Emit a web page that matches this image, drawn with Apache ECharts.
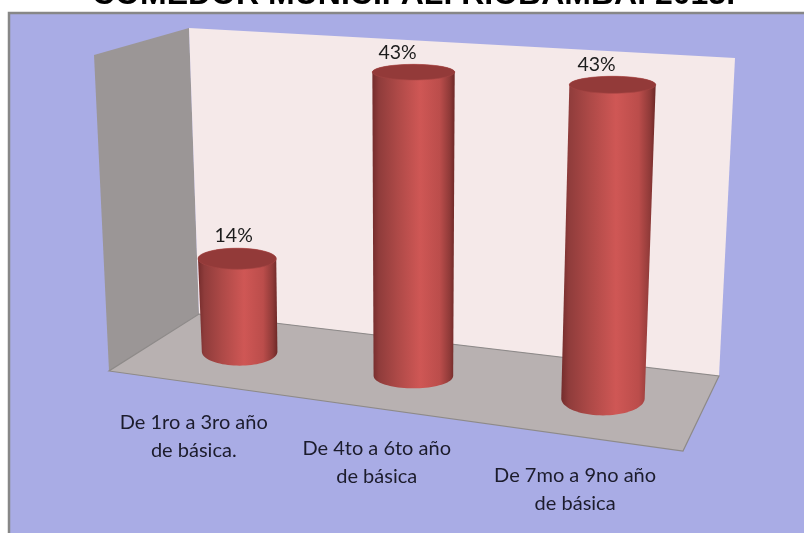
<!DOCTYPE html>
<html><head><meta charset="utf-8">
<style>html,body{margin:0;padding:0;background:#fff}#c{width:804px;height:533px}</style>
<script src="https://cdn.jsdelivr.net/npm/echarts@6/dist/echarts.min.js"></script>
</head><body><div id="c"></div>
<script>
const categories = ['De 1ro a 3ro año\nde básica.', 'De 4to a 6to año\nde básica', 'De 7mo a 9no año\nde básica'];
const percentValues = [14, 43, 43];
const titleText = 'COMEDOR MUNICIPAL. RIOBAMBA. 2013.';

const floorCorners = [[199, 314], [719, 376], [683, 451], [109, 371]];
const leftWall = [[94, 55], [189, 28], [199, 314], [109, 371]];
const backWall = [[189, 28], [735, 58], [719, 376], [199, 314]];
const topRadiusY = [10.5, 7.8, 8.5];
const baseRadiusY = [14, 12.5, 17];
const depthOnFloor = [0.5, 0.525, 0.5];
const widthNudge = [0.006, 0.011, 0.006];
const labelNudge = [0, 0.004, 0];
const heightTrim = [1, 1.01, 0.995];
const labelDx = [-3.5, -16, -16];

// Perspective mapping of the floor plane (unit square to the floor quadrilateral)
const [p0, p1, p2, p3] = floorCorners;
const dx1 = p1[0] - p2[0], dx2 = p3[0] - p2[0], sx = p0[0] - p1[0] + p2[0] - p3[0];
const dy1 = p1[1] - p2[1], dy2 = p3[1] - p2[1], sy = p0[1] - p1[1] + p2[1] - p3[1];
const det = dx1 * dy2 - dx2 * dy1;
const hg = (sx * dy2 - dx2 * sy) / det, hh = (dx1 * sy - sx * dy1) / det;
const ha = p1[0] - p0[0] + hg * p1[0], hb = p3[0] - p0[0] + hh * p3[0];
const hd = p1[1] - p0[1] + hg * p1[1], he = p3[1] - p0[1] + hh * p3[1];
function floorPoint(u, v) {
  const w = hg * u + hh * v + 1;
  return { x: (ha * u + hb * v + p0[0]) / w, y: (hd * u + he * v + p0[1]) / w, scale: 1 / w };
}

const GRID = { left: 100, top: 60, width: 600, height: 307.5 };
const sideGradient = {
  type: 'linear', x: 0, y: 0, x2: 1, y2: 0,
  colorStops: [
    { offset: 0, color: '#742c2c' }, { offset: 0.08, color: '#8f3c3b' },
    { offset: 0.3, color: '#ad4947' }, { offset: 0.58, color: '#cf5755' },
    { offset: 0.82, color: '#bb4d4b' }, { offset: 0.94, color: '#8f3a38' },
    { offset: 1, color: '#6d2827' }
  ]
};

function ellipsePts(cx, cy, rx, ry, from, to, n) {
  const out = [];
  for (let k = 0; k <= n; k++) {
    const t = from + (to - from) * k / n;
    out.push([cx + rx * Math.cos(t), cy + ry * Math.sin(t)]);
  }
  return out;
}

function renderCylinder(params, api) {
  const i = api.value(0), v = api.value(1);
  const zero = api.coord([i, 0]), tip = api.coord([i, v]);
  const u = (zero[0] - GRID.left) / GRID.width + widthNudge[i];
  const base = floorPoint(u, depthOnFloor[i]);
  const bandW = api.size([1, 0])[0];
  const height = (zero[1] - tip[1]) * base.scale * heightTrim[i];
  const lean = (base.x - 410) * 1.58e-4 * height;
  const tx = base.x + lean, ty = base.y - height;
  const rxBottom = bandW * 0.175 * base.scale;
  const rxTop = rxBottom * 1.035;
  const side = ellipsePts(base.x, base.y, rxBottom, baseRadiusY[i], 0, Math.PI, 40)
    .concat(ellipsePts(tx, ty, rxTop, topRadiusY[i], Math.PI, 2 * Math.PI, 40));
  return {
    type: 'group',
    children: [
      { type: 'polygon', shape: { points: side }, style: { fill: sideGradient } },
      { type: 'polygon', shape: { points: ellipsePts(tx, ty, rxTop, topRadiusY[i], 0, 2 * Math.PI, 60) },
        style: { fill: '#933a39', stroke: '#a54543', lineWidth: 0.6 } },
      { type: 'text', style: { x: tx + labelDx[i], y: ty - topRadiusY[i] - 12, text: v + '%',
        font: '19.5px Lato', fill: '#1c1c1c', align: 'center', verticalAlign: 'middle' } }
    ]
  };
}

function renderCategoryLabel(params, api) {
  const i = api.value(0);
  const zero = api.coord([i, 0]);
  const u = (zero[0] - GRID.left) / GRID.width + labelNudge[i];
  const front = floorPoint(u, 1);
  return { type: 'text', style: { x: front.x + 1, y: front.y + 54, text: categories[i],
    font: '20px Lato', lineHeight: 28, fill: '#1c1c2c', align: 'center', verticalAlign: 'middle' } };
}

const wallPoly = (pts, fill, z) => ({ type: 'polygon', z, shape: { points: pts }, style: { fill } });
const chart = echarts.init(document.getElementById('c'), null, { renderer: 'canvas' });
chart.setOption({
  animation: false,
  backgroundColor: '#ffffff',
  title: { text: titleText, left: 87, top: -26, padding: 5,
    textStyle: { fontFamily: 'Liberation Sans', fontWeight: 'bold', fontSize: 32, color: '#000' } },
  grid: { left: GRID.left, top: GRID.top, width: GRID.width, height: GRID.height },
  xAxis: { type: 'category', data: categories, show: false },
  yAxis: { type: 'value', min: 0, max: 50, show: false },
  graphic: [
    { type: 'rect', z: -5, shape: { x: 9, y: 13, width: 900, height: 600 },
      style: { fill: '#a9ace5', stroke: '#878787', lineWidth: 2.5 } },
    wallPoly(leftWall, '#9b9696', -4),
    wallPoly(backWall, '#f5e9e9', -4),
    { type: 'polygon', z: -3, shape: { points: floorCorners },
      style: { fill: '#b8b1b1', stroke: '#8e8a88', lineWidth: 1.2 } }
  ],
  series: [
    { type: 'custom', coordinateSystem: 'cartesian2d', renderItem: renderCylinder, z: 3, silent: true,
      encode: { x: 0, y: 1 }, data: percentValues.map((v, i) => [i, v]) },
    { type: 'custom', coordinateSystem: 'cartesian2d', renderItem: renderCategoryLabel, z: 3, silent: true,
      encode: { x: 0, y: 1 }, data: percentValues.map((v, i) => [i, v]) }
  ]
});
</script></body></html>
